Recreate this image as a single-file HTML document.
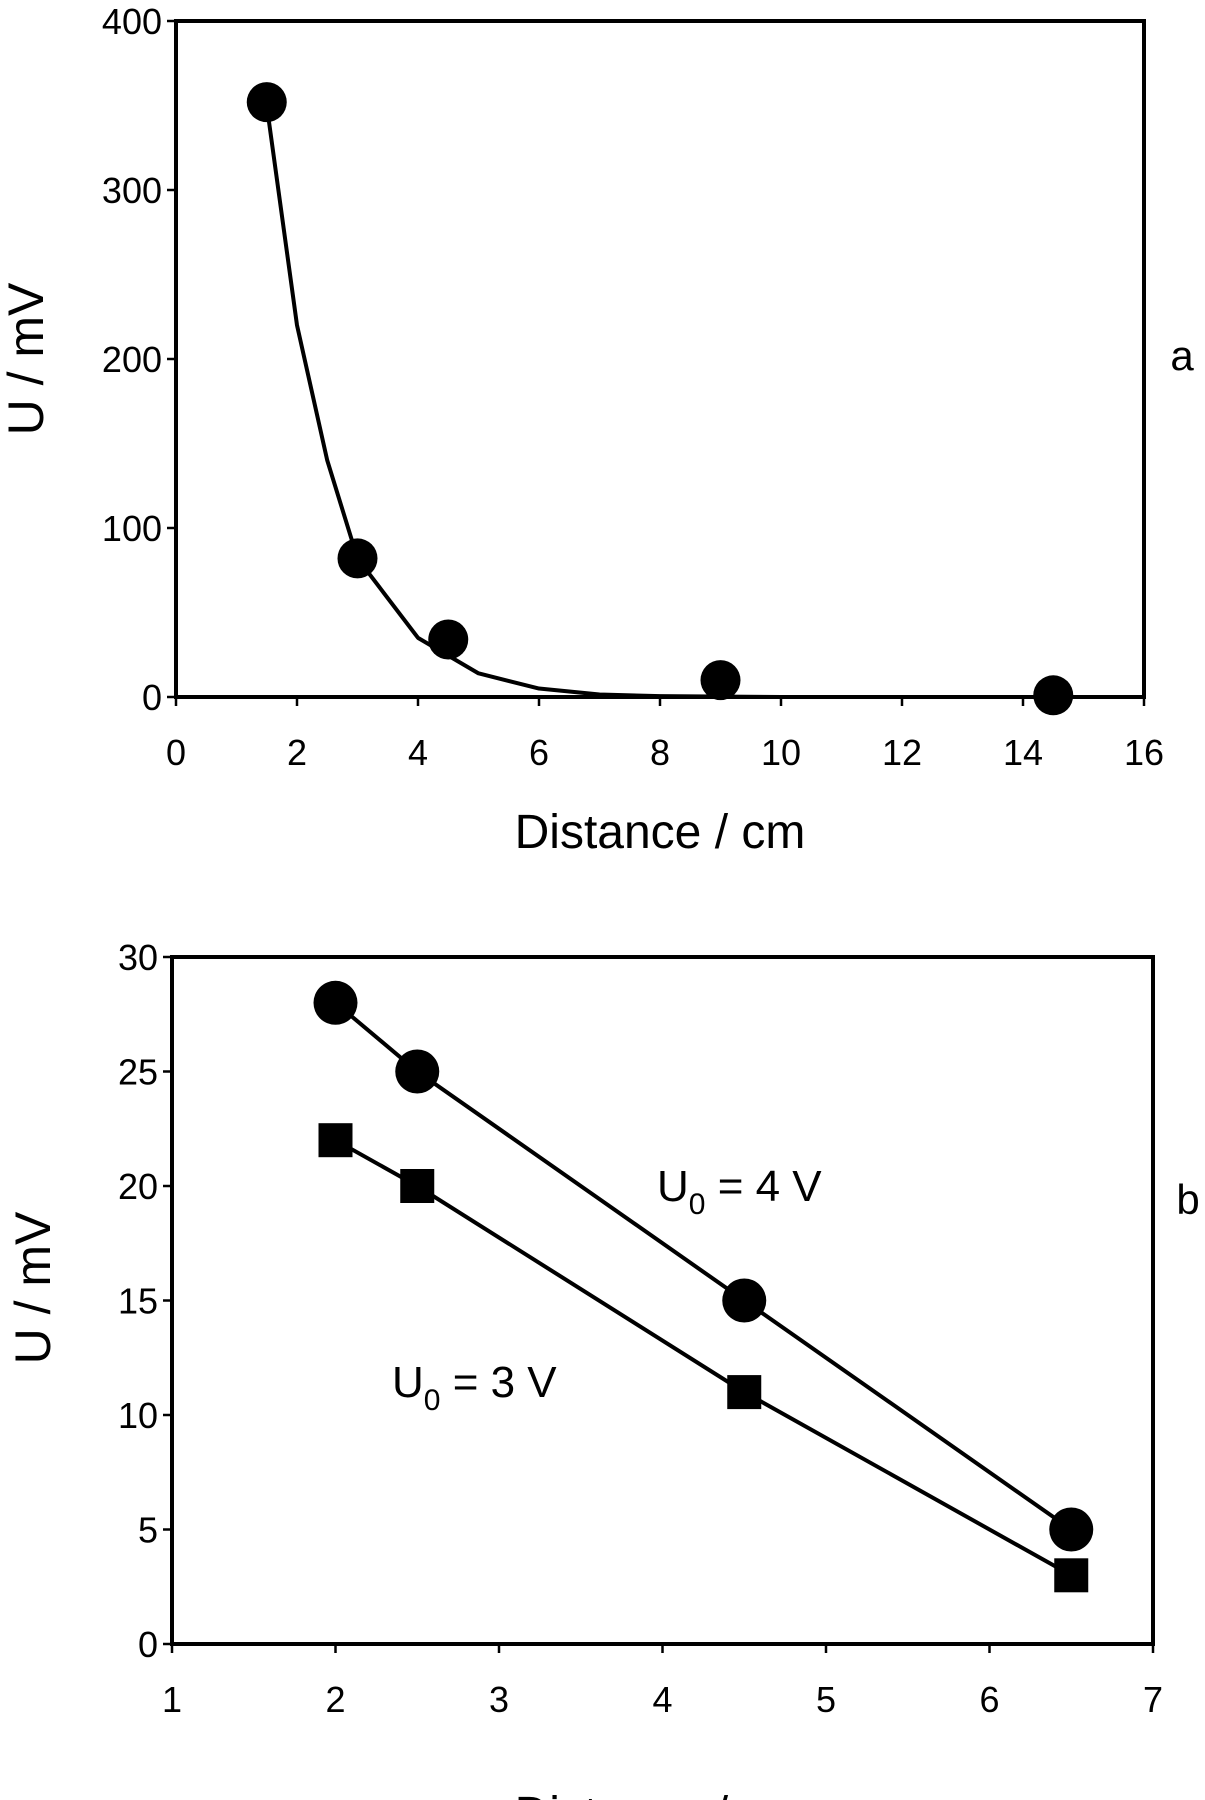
<!DOCTYPE html>
<html><head><meta charset="utf-8"><style>
html,body{margin:0;padding:0;background:#fff;}
svg{display:block;font-family:"Liberation Sans",Arial,sans-serif;}
</style></head><body>
<svg id="fig" width="1205" height="1800" viewBox="0 0 1205 1800"></svg>
<script>
// Panel a data
const aX = [1.5, 3, 4.5, 9, 14.5];
const aY = [352, 82, 34, 10, 1];
const aFitX = [1.5, 2, 2.5, 3, 4, 5, 6, 7, 8, 10, 16];
const aFitY = [350, 220, 140, 82, 35, 14, 5, 1.5, 0.5, 0, 0];
const aXTicks = [0, 2, 4, 6, 8, 10, 12, 14, 16];
const aYTicks = [0, 100, 200, 300, 400];
// Panel b data
const bX = [2, 2.5, 4.5, 6.5];
const b4V = [28, 25, 15, 5];
const b3V = [22, 20, 11, 3];
const bXTicks = [1, 2, 3, 4, 5, 6, 7];
const bYTicks = [0, 5, 10, 15, 20, 25, 30];

const NS = "http://www.w3.org/2000/svg";
const svg = document.getElementById('fig');
function mk(tag, attrs, parent) {
  const e = document.createElementNS(NS, tag);
  for (const k in attrs) e.setAttribute(k, attrs[k]);
  (parent || svg).appendChild(e);
  return e;
}
function panel(cfg) {
  const g = mk('g', {});
  
  
  const sx = v => cfg.x0 + (v - cfg.xmin) / (cfg.xmax - cfg.xmin) * (cfg.x1 - cfg.x0);
  const sy = v => cfg.y0 - (v - cfg.ymin) / (cfg.ymax - cfg.ymin) * (cfg.y0 - cfg.y1);
  const frame = mk('rect', {x: cfg.x0, y: cfg.y1, width: cfg.x1 - cfg.x0, height: cfg.y0 - cfg.y1, fill: 'none', stroke: '#000', 'stroke-width': 4}, g);
  
  
  cfg.xt.forEach(t => {
    mk('line', {x1: sx(t), x2: sx(t), y1: cfg.y0, y2: cfg.y0 + 9, stroke: '#000', 'stroke-width': 2.5}, g);
    const tx = mk('text', {x: sx(t), y: cfg.y0 + 68, 'font-size': 36, 'text-anchor': 'middle'}, g);
    tx.textContent = t;
    
    
  });
  cfg.yt.forEach(t => {
    mk('line', {x1: cfg.x0 - 9, x2: cfg.x0, y1: sy(t), y2: sy(t), stroke: '#000', 'stroke-width': 2.5}, g);
    const tx = mk('text', {x: cfg.x0 - 14, y: sy(t) + 13, 'font-size': 36, 'text-anchor': 'end'}, g);
    tx.textContent = t;
    
    
  });
  const xt = mk('text', {x: cfg.xtx, y: cfg.xty, 'font-size': 48, 'text-anchor': 'middle'}, g);
  xt.textContent = 'Distance / cm';
  
  
  const yt = mk('text', {x: 0, y: 0, 'font-size': 50, 'text-anchor': 'middle', transform: 'translate(' + cfg.ytx + ',' + cfg.yty + ') rotate(-90)'}, g);
  yt.textContent = 'U / mV';
  
  
  const pl = mk('text', {x: cfg.plx, y: cfg.ply, 'font-size': 42, 'text-anchor': 'middle'}, g);
  pl.textContent = cfg.label;
  
  
  return {g, sx, sy};
}

// Panel a
const A = panel({name: 'panel-a', x0: 176, x1: 1144, y0: 697, y1: 21, xmin: 0, xmax: 16, ymin: 0, ymax: 400,
  xt: aXTicks, yt: aYTicks, xtx: 660, xty: 848, ytx: 43, yty: 359, plx: 1182, ply: 370, label: 'a'});
const fit = mk('polyline', {points: aFitX.map((x, i) => A.sx(x) + ',' + A.sy(aFitY[i])).join(' '), fill: 'none', stroke: '#000', 'stroke-width': 4, 'stroke-linejoin': 'round'}, A.g);


aX.forEach((x, i) => {
  const c = mk('circle', {cx: A.sx(x), cy: A.sy(aY[i]), r: 20, fill: '#000'}, A.g);
  
  
});

// Panel b
const B = panel({name: 'panel-b', x0: 172, x1: 1153, y0: 1644, y1: 957, xmin: 1, xmax: 7, ymin: 0, ymax: 30,
  xt: bXTicks, yt: bYTicks, xtx: 660, xty: 1830, ytx: 50, yty: 1288, plx: 1188, ply: 1214, label: 'b'});
const l4 = mk('polyline', {points: bX.map((x, i) => B.sx(x) + ',' + B.sy(b4V[i])).join(' '), fill: 'none', stroke: '#000', 'stroke-width': 4}, B.g);


const l3 = mk('polyline', {points: bX.map((x, i) => B.sx(x) + ',' + B.sy(b3V[i])).join(' '), fill: 'none', stroke: '#000', 'stroke-width': 4}, B.g);


bX.forEach((x, i) => {
  const c = mk('circle', {cx: B.sx(x), cy: B.sy(b4V[i]), r: 22, fill: '#000'}, B.g);
  
  
  const s = mk('rect', {x: B.sx(x) - 17, y: B.sy(b3V[i]) - 17, width: 34, height: 34, fill: '#000'}, B.g);
  
  
});
function ulabel(x, y, v, name) {
  const t = mk('text', {x: x, y: y, 'font-size': 44}, B.g);
  
  
  const a = mk('tspan', {}, t); a.textContent = 'U';
  const b = mk('tspan', {dy: 13, 'font-size': 30}, t); b.textContent = '0';
  const c = mk('tspan', {dy: -13}, t); c.textContent = ' = ' + v + ' V';
}
ulabel(657, 1201, 4, 'label-u0-4v');
ulabel(392, 1397, 3, 'label-u0-3v');
</script>
</body></html>
